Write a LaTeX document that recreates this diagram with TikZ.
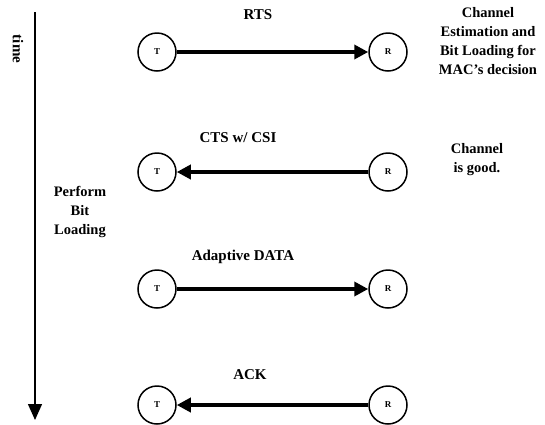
\documentclass[tikz,border=0pt]{standalone}
\usepackage{fontspec}
\setmainfont{Liberation Serif}
\usepackage{tikz}
\usetikzlibrary{arrows.meta}

\begin{document}
\begin{tikzpicture}
      [ x = 1pt, y = -1pt
      , station/.style =
        { draw, circle, line width = 1.5pt, minimum size = 38pt, inner sep = 0pt
        , font = \bfseries\fontsize{9}{10}\selectfont }
      , frame/.style =
        { line width = 4pt, -{Triangle[length=14pt,width=14pt]} }
      , msg/.style =
        { font = \bfseries\fontsize{15}{17}\selectfont }
      , note/.style =
        { align = center, font = \bfseries\fontsize{14.5}{19}\selectfont }
      ]
      \useasboundingbox (0, 0) rectangle (545, 424);
      % time axis
      \coordinate (start) at (35, 12);
      \coordinate (stop) at (35, 420);
      \draw [line width = 1.3pt, -{Triangle[length=16pt,width=14pt]}] (start) to (stop);
      \node [msg, rotate = -90] (time) at (18, 49) {time};
      % stations
      \node [station] (t1) at (157, 52) {T};
      \node [station] (r1) at (388, 52) {R};
      \node [station] (t2) at (157, 172) {T};
      \node [station] (r2) at (388, 172) {R};
      \node [station] (t3) at (157, 289) {T};
      \node [station] (r3) at (388, 289) {R};
      \node [station] (t4) at (157, 405) {T};
      \node [station] (r4) at (388, 405) {R};
      % frames
      \draw [frame] (t1) to (r1);
      \draw [frame] (r2) to (t2);
      \draw [frame] (t3) to (r3);
      \draw [frame] (r4) to (t4);
      \node [msg] (rts) at (258, 15) {RTS};
      \node [msg] (cts) at (238, 138) {CTS w/ CSI};
      \node [msg] (data) at (243, 257) {Adaptive DATA};
      \node [msg] (ack) at (250, 375) {ACK};
      % notes
      \node [note] (est) at (488, 41) {Channel\\Estimation and\\Bit Loading for\\MAC's decision};
      \node [note] (good) at (477, 160) {Channel\\is good.};
      \node [note] (load) at (80, 212) {Perform\\Bit\\Loading};
    \end{tikzpicture}
\end{document}
